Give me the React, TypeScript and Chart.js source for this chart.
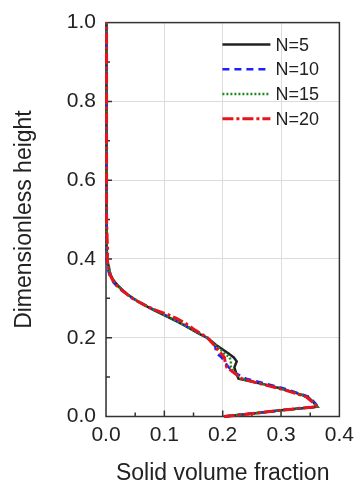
import { useEffect, useRef } from 'react';
import { Chart, registerables } from 'chart.js';
Chart.register(...registerables);

const FONT = "'Liberation Sans', Arial, sans-serif";

const heights = [0, 0.008, 0.016, 0.025, 0.035, 0.05, 0.06, 0.071, 0.084, 0.096, 0.11, 0.125, 0.14, 0.15, 0.16, 0.17, 0.18, 0.19, 0.2, 0.21, 0.22, 0.23, 0.24, 0.25, 0.26, 0.27, 0.28, 0.29, 0.3, 0.31, 0.32, 0.33, 0.34, 0.35, 0.36, 0.37, 0.38, 0.39, 0.4, 0.42, 0.45, 0.5, 0.6, 0.7, 0.8, 0.9, 1.0];

const fractionN5 = [0.202, 0.255, 0.3, 0.362, 0.356, 0.346, 0.325, 0.3, 0.265, 0.227, 0.223, 0.22, 0.224, 0.219, 0.21, 0.2, 0.19, 0.182, 0.173, 0.16, 0.148, 0.136, 0.123, 0.11, 0.096, 0.082, 0.069, 0.057, 0.046, 0.037, 0.029, 0.022, 0.016, 0.011, 0.008, 0.006, 0.005, 0.003, 0.002, 0.0015, 0.001, 0.001, 0.001, 0.001, 0.001, 0.001, 0.001];
const fractionN10 = [0.202, 0.256, 0.302, 0.363, 0.358, 0.348, 0.328, 0.305, 0.272, 0.24, 0.222, 0.21, 0.203, 0.198, 0.19, 0.188, 0.187, 0.181, 0.173, 0.161, 0.149, 0.137, 0.125, 0.112, 0.098, 0.084, 0.07, 0.058, 0.046, 0.036, 0.027, 0.019, 0.013, 0.009, 0.006, 0.004, 0.003, 0.002, 0.001, 0.001, 0.001, 0.001, 0.001, 0.001, 0.001, 0.001, 0.001];
const fractionN15 = [0.202, 0.255, 0.3, 0.362, 0.356, 0.345, 0.324, 0.299, 0.264, 0.23, 0.222, 0.214, 0.214, 0.212, 0.203, 0.196, 0.189, 0.182, 0.174, 0.161, 0.149, 0.137, 0.124, 0.111, 0.097, 0.083, 0.07, 0.058, 0.047, 0.037, 0.029, 0.021, 0.015, 0.011, 0.008, 0.006, 0.004, 0.003, 0.002, 0.001, 0.001, 0.001, 0.001, 0.001, 0.001, 0.001, 0.001];
const fractionN20 = [0.202, 0.255, 0.3, 0.362, 0.355, 0.343, 0.322, 0.297, 0.262, 0.233, 0.22, 0.207, 0.204, 0.203, 0.197, 0.191, 0.186, 0.18, 0.174, 0.163, 0.152, 0.143, 0.132, 0.12, 0.104, 0.085, 0.07, 0.057, 0.045, 0.036, 0.028, 0.02, 0.014, 0.01, 0.007, 0.005, 0.004, 0.003, 0.002, 0.003, 0.002, 0.001, 0.001, 0.001, 0.001, 0.001, 0.001];

const seriesLabels = ['N=5', 'N=10', 'N=15', 'N=20'];
const seriesValues = [fractionN5, fractionN10, fractionN15, fractionN20];
const seriesColors = ['#222222', '#1e1eff', '#1f8a1f', '#e8141b'];
const seriesDashes = [[], [7, 5], [2, 2], [11, 3, 3, 3]];

const xTicks = [0, 0.1, 0.2, 0.3, 0.4];
const yTicks = [0, 0.2, 0.4, 0.6, 0.8, 1.0];
const xMinorTicks = [0.05, 0.15, 0.25, 0.35];
const yMinorTicks = [0.1, 0.3, 0.5, 0.7, 0.9];

const framePlugin = {
  id: 'frameTicks',
  beforeDatasetsDraw(chart: any) {
    const { ctx, chartArea, scales } = chart;
    const { left, right, top, bottom } = chartArea;
    ctx.save();
    ctx.strokeStyle = '#333';
    ctx.lineWidth = 1.5;
    ctx.setLineDash([]);
    ctx.strokeRect(left, top, right - left, bottom - top);
    ctx.beginPath();
    xTicks.slice(1, -1).forEach((v) => {
      const px = scales.x.getPixelForValue(v);
      ctx.moveTo(px, bottom);
      ctx.lineTo(px, bottom - 6);
    });
    xMinorTicks.forEach((v) => {
      const px = scales.x.getPixelForValue(v);
      ctx.moveTo(px, bottom);
      ctx.lineTo(px, bottom - 4);
    });
    yTicks.slice(1, -1).forEach((v) => {
      const py = scales.y.getPixelForValue(v);
      ctx.moveTo(left, py);
      ctx.lineTo(left + 6, py);
    });
    yMinorTicks.forEach((v) => {
      const py = scales.y.getPixelForValue(v);
      ctx.moveTo(left, py);
      ctx.lineTo(left + 4, py);
    });
    ctx.stroke();
    ctx.restore();
  },
};

const legendPlugin = {
  id: 'insideLegend',
  afterDraw(chart: any) {
    const { ctx, chartArea } = chart;
    const { right, top } = chartArea;
    ctx.save();
    chart.data.datasets.forEach((ds: any, i: number) => {
      const yy = top + 22 + i * 24.7;
      ctx.beginPath();
      ctx.setLineDash(ds.borderDash || []);
      ctx.strokeStyle = ds.borderColor;
      ctx.lineWidth = ds.borderWidth;
      ctx.moveTo(right - 117, yy);
      ctx.lineTo(right - 69, yy);
      ctx.stroke();
      ctx.setLineDash([]);
      ctx.fillStyle = '#222';
      ctx.font = `18px ${FONT}`;
      ctx.textAlign = 'left';
      ctx.textBaseline = 'middle';
      ctx.fillText(ds.label, right - 64, yy + 1);
    });
    ctx.restore();
  },
};

export default function App() {
  const ref = useRef<HTMLCanvasElement>(null);
  useEffect(() => {
    if (!ref.current) return;
    const datasets = seriesLabels.map((label, k) => ({
      label,
      data: heights.map((h, i) => ({ x: seriesValues[k][i], y: h })),
      borderColor: seriesColors[k],
      backgroundColor: seriesColors[k],
      borderDash: seriesDashes[k],
      borderWidth: k === 3 ? 3 : 2.5,
      showLine: true,
      pointRadius: 0,
      tension: 0,
      clip: 6,
      order: 4 - k,
    }));
    const chart = new Chart(ref.current, {
      type: 'scatter',
      data: { datasets },
      options: {
        animation: false,
        responsive: false,
        devicePixelRatio: 1,
        layout: { padding: { top: 20, right: 18, left: 0, bottom: 0 } },
        plugins: { legend: { display: false }, tooltip: { enabled: false } },
        scales: {
          x: {
            type: 'linear',
            min: 0,
            max: 0.4,
            afterBuildTicks: (s: any) => { s.ticks = xTicks.map((v) => ({ value: v })); },
            afterFit: (s: any) => { s.height = 68.5; },
            grid: { color: '#dcdcdc', drawTicks: false, lineWidth: 1 },
            border: { display: false },
            ticks: {
              padding: 6,
              color: '#222',
              font: { family: FONT, size: 21 },
              maxRotation: 0,
              autoSkip: false,
              callback: (v: any) => Number(v).toFixed(1),
            },
            title: {
              display: true,
              text: 'Solid volume fraction',
              color: '#222',
              font: { family: FONT, size: 23, lineHeight: 1 },
              padding: { top: 0, bottom: 0 },
            },
          },
          y: {
            type: 'linear',
            min: 0,
            max: 1,
            afterBuildTicks: (s: any) => { s.ticks = yTicks.map((v) => ({ value: v })); },
            afterFit: (s: any) => { s.width = 106; },
            grid: { color: '#dcdcdc', drawTicks: false, lineWidth: 1 },
            border: { display: false },
            ticks: {
              padding: 10,
              color: '#222',
              font: { family: FONT, size: 21 },
              autoSkip: false,
              callback: (v: any) => Number(v).toFixed(1),
            },
            title: {
              display: true,
              text: 'Dimensionless height',
              color: '#222',
              font: { family: FONT, size: 23, lineHeight: 1 },
              padding: { top: 13, bottom: 0 },
            },
          },
        },
      },
      plugins: [framePlugin, legendPlugin],
    });
    return () => chart.destroy();
  }, []);
  return (
    <div style={{ position: 'fixed', left: 0, top: 0, width: 360, height: 485, background: '#fff' }}>
      <canvas ref={ref} width={360} height={485} style={{ display: 'block' }} />
    </div>
  );
}
